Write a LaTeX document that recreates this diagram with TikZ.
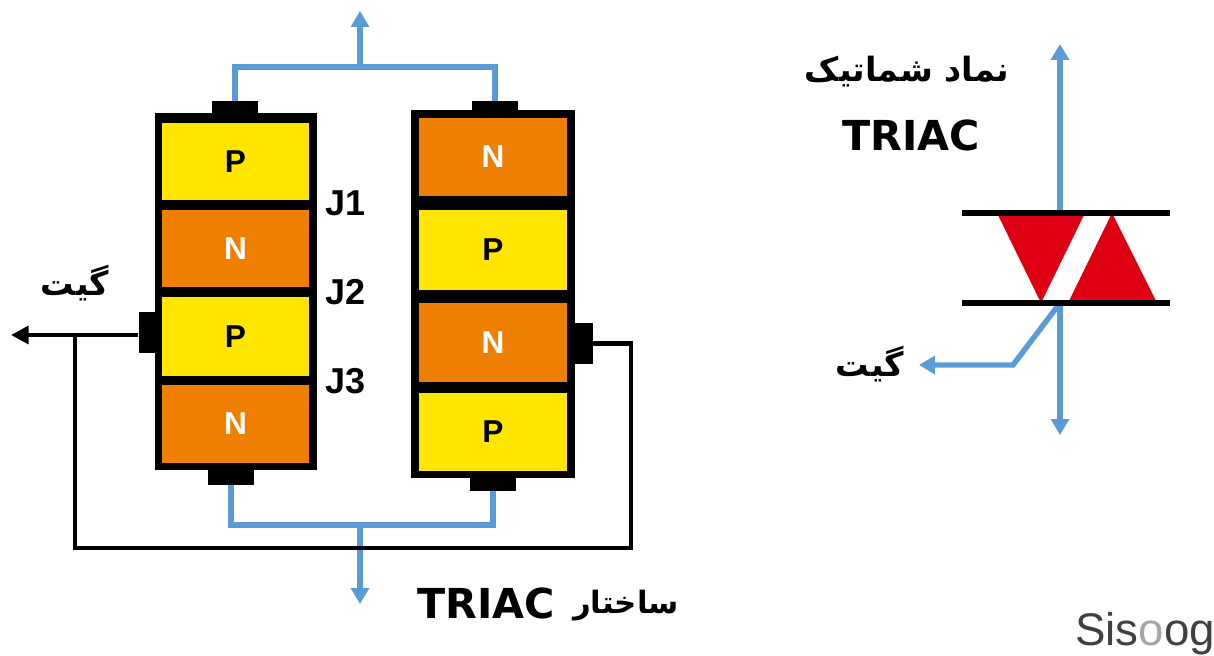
\documentclass[tikz,border=0pt]{standalone}
\usepackage{fontspec}
\setmainfont{Liberation Sans}
\newfontfamily\dejavu{DejaVu Sans}
\newfontfamily\farsi[Script=Arabic]{DejaVu Sans}
\TeXXeTstate=1
\usetikzlibrary{arrows.meta}
\definecolor{layerP}{HTML}{FFE600}
\definecolor{layerN}{HTML}{EF7F00}
\definecolor{wireblue}{HTML}{5B9BD5}
\definecolor{triacred}{HTML}{DE0012}
\tikzset{
  frame/.style={fill=black,inner sep=0pt},
  layer/.style={inner sep=0pt,minimum width=2.96cm,font=\fontsize{18}{18}\selectfont\bfseries},
  layerp/.style={layer,fill=layerP,text=black},
  layern/.style={layer,fill=layerN,text=white},
  terminal/.style={fill=black,inner sep=0pt,minimum width=0.92cm,minimum height=0.32cm},
  gatepad/.style={fill=black,inner sep=0pt,minimum width=0.38cm,minimum height=0.82cm},
  wire/.style={draw=wireblue,line width=3.1pt},
  wirearrow/.style={wire,-{Triangle[width=10pt,length=9pt]}},
  gatewire/.style={draw=black,line width=2.8pt},
  bar/.style={draw=black,line width=3.2pt},
  junction/.style={text=black,anchor=base,font=\fontsize{20.5}{20.5}\selectfont\bfseries},
  farsitext/.style={text=black,anchor=base,font=\farsi\fontsize{19}{19}\selectfont\bfseries},
  triactext/.style={text=black,anchor=base,font=\dejavu\fontsize{23.5}{23.5}\selectfont\bfseries},
}
\begin{document}
\begin{tikzpicture}[x=0.02cm,y=-0.02cm]
\useasboundingbox (0,0) rectangle (1214,656);

% left stack:
\path (236,291.5) node[frame,minimum width=3.24cm,minimum height=7.14cm] (frameA) {};
\path (235.5,161.5) node[layerp,minimum height=1.54cm] (layerA) {P};
\path (235.5,248.5) node[layern,minimum height=1.56cm] (layerB) {N};
\path (235.5,336.5) node[layerp,minimum height=1.58cm] (layerC) {P};
\path (235.5,424) node[layern,minimum height=1.56cm] (layerD) {N};

% right stack:
\path (493,294) node[frame,minimum width=3.28cm,minimum height=7.36cm] (frameB) {};
\path (493,157) node[layern,minimum height=1.56cm] (layerE) {N};
\path (493,250) node[layerp,minimum height=1.6cm] (layerF) {P};
\path (493,342.5) node[layern,minimum height=1.58cm] (layerG) {N};
\path (493,432) node[layerp,minimum height=1.56cm] (layerH) {P};

% terminals:
\path (235,109) node[terminal] (termA) {};
\path (495,109) node[terminal] (termB) {};
\path (231,476.5) node[terminal] (termC) {};
\path (493,483) node[terminal] (termD) {};
\path (148,332.5) node[gatepad] (gateA) {};
\path (583,343.5) node[gatepad] (gateB) {};

% wires of the structure:
\coordinate (topjoin) at (360,67);
\coordinate (topout) at (360,11);
\coordinate (botjoin) at (360,525);
\coordinate (botout) at (360,604);
\coordinate (gateout) at (11,335);
\coordinate (gatejoin) at (75,335);
\coordinate (gatelow) at (75,548);
\coordinate (gatefar) at (631,548);
\draw[wire] (termA.north) |- (topjoin) -| (termB.north);
\draw[wirearrow] (topjoin) -- (topout);
\draw[wire] (termC.south) |- (botjoin) -| (termD.south);
\draw[wirearrow] (botjoin) -- (botout);
\draw[gatewire,-{Triangle[width=10pt,length=10pt]}] (gateA.west |- gateout) -- (gateout);
\draw[gatewire] (gatejoin) -- (gatelow) -- (gatefar) |- (gateB.east);

% labels of the structure:
\path (346,215) node[junction] (labelJa) {J1};
\path (346,304) node[junction] (labelJb) {J2};
\path (346,393) node[junction] (labelJc) {J3};
\path (75,295) node[farsitext] (labelGateA) {\beginR گیت\endR};
\path (486,618) node[triactext] (labelTitleA) {TRIAC};
\path (626,613) node[farsitext,font=\farsi\fontsize{17.5}{17.5}\selectfont\bfseries] (labelTitleB) {\beginR ساختار\endR};

% symbol:
\coordinate (barTop) at (1060,213);
\coordinate (barLow) at (1060,303);
\coordinate (symUp) at (1060,44);
\coordinate (symDown) at (1060,435);
\coordinate (symBend) at (1013,365);
\coordinate (symGate) at (919,365);
\fill[triacred] (997,213) -- (1085,213) -- (1041,303) -- cycle;
\fill[triacred] (1112,213) -- (1157,303) -- (1068,303) -- cycle;
\draw[wirearrow] (barTop) -- (symUp);
\draw[wirearrow] (barLow) -- (symDown);
\draw[wirearrow] (barLow) -- (symBend) -- (symGate);
\draw[bar] (962,213) -- (1170,213);
\draw[bar] (962,303) -- (1170,303);
\path (907,81) node[farsitext] (labelSym) {\beginR نماد شماتیک\endR};
\path (911,150) node[triactext] (labelSymB) {TRIAC};
\path (870,376) node[farsitext] (labelGateB) {\beginR گیت\endR};

% logo:
\path (1145,645) node[anchor=base,text=black!75,font=\fontsize{26}{26}\selectfont] (labelLogo) {Sis{\color{black!35}o}og};

\end{tikzpicture}
\end{document}
